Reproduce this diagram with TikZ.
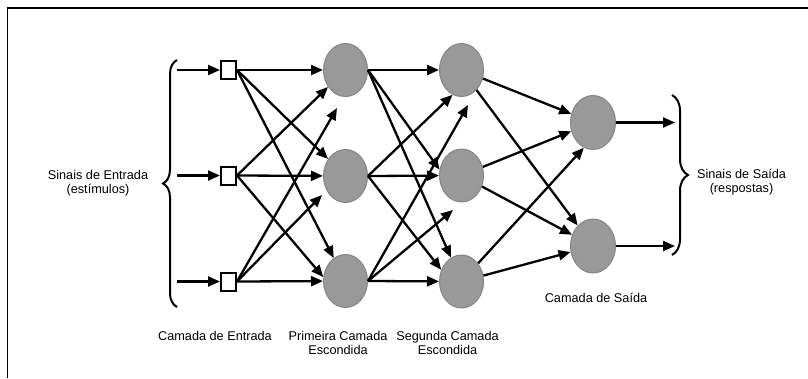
\documentclass[tikz,border=0pt]{standalone}
\usepackage{fontspec}
\setmainfont{Liberation Sans}
\usetikzlibrary{shapes.geometric, arrows.meta, positioning, decorations.pathreplacing}

\begin{document}
\begin{tikzpicture}[
  x=1pt, y=-1pt,
  inbox/.style={draw, rectangle, fill=white, line width=2pt, minimum width=15pt, minimum height=18pt, inner sep=0pt},
  neuron/.style={draw=black!48, fill=black!40, ellipse, line width=1pt, minimum width=44pt, minimum height=53pt, inner sep=0pt},
  arrow/.style={-{Triangle[length=12pt,width=10pt]}, line width=2.3pt},
  lbl/.style={align=center, font=\fontsize{12.7}{14.5}\selectfont},
  brace/.style={decorate, decoration={brace, amplitude=#1}, line width=2pt}
]
\useasboundingbox (0,0) rectangle (808,378);

% Frame
\draw[line width=1.8pt] (7.5,378) -- (7.5,8) -- (808,8);

% Input layer
\node (i1) [inbox] at (228.5,70) {};
\node (i2) [inbox] at (228.5,175.5) {};
\node (i3) [inbox] at (228.5,281.5) {};

% Hidden layers
\node (h1a) [neuron] at (345.5,70) {};
\node (h1b) [neuron] at (345.5,176) {};
\node (h1c) [neuron] at (345.5,281) {};
\node (h2a) [neuron] at (461.5,70) {};
\node (h2b) [neuron] at (461.5,175.5) {};
\node (h2c) [neuron] at (461.5,281.5) {};

% Output layer
\node (oa) [neuron, minimum width=45pt, minimum height=54pt] at (593,122.5) {};
\node (ob) [neuron, minimum width=45pt, minimum height=54pt] at (593,246) {};

% Free ends
\coordinate (s1) at (177,70);
\coordinate (s2) at (177,175.5);
\coordinate (s3) at (177,281.5);
\coordinate [right=59pt of oa.east] (t1);
\coordinate [right=59pt of ob.east] (t2);
\coordinate (c1) at (337,108);
\coordinate (c2) at (322,195);
\coordinate (c3) at (468,105);
\coordinate (c4) at (453,210);

% Braces
\draw[brace=14pt] (177,307) -- (177,60);
\draw[brace=16pt] (672,95) -- (672,255);

% Arrows
\draw [arrow] (s1) -- (i1);
\draw [arrow] (s2) -- (i2);
\draw [arrow] (s3) -- (i3);

\draw [arrow] (i1.east) -- (h1a);
\draw [arrow] (i1.east) -- (h1b);
\draw [arrow] (i1.east) -- (h1c);
\draw [arrow] (i2.east) -- (h1a);
\draw [arrow] (i2.east) -- (h1b);
\draw [arrow] (i2.east) -- (h1c.170);
\draw [arrow] (i3.east) -- (c1);
\draw [arrow] (i3.east) -- (c2);
\draw [arrow] (i3.east) -- (h1c);

\draw [arrow] (h1a.east) -- (h2a);
\draw [arrow] (h1a.east) -- (h2b.165);
\draw [arrow] (h1a.east) -- (h2c);
\draw [arrow] (h1b.east) -- (h2a.-110);
\draw [arrow] (h1b.east) -- (h2b);
\draw [arrow] (h1b.east) -- (h2c.150);
\draw [arrow] (h1c.east) -- (c3);
\draw [arrow] (h1c.east) -- (c4);
\draw [arrow] (h1c.east) -- (h2c);

\draw [arrow] (h2a) -- (oa);
\draw [arrow] (h2a) -- (ob);
\draw [arrow] (h2b) -- (oa);
\draw [arrow] (h2b) -- (ob);
\draw [arrow] (h2c) -- (oa.-110);
\draw [arrow] (h2c) -- (ob);

\draw [arrow] (oa) -- (t1);
\draw [arrow] (ob) -- (t2);

% Labels
\node (lin) [lbl] at (98,183) {Sinais de Entrada\\(estímulos)};
\node (lout) [lbl] at (741.5,182) {Sinais de Saída\\(respostas)};
\node (l0) [lbl] at (215,335.5) {Camada de Entrada};
\node (l1) [lbl] at (338,343) {Primeira Camada\\Escondida};
\node (l2) [lbl] at (447.5,343) {Segunda Camada\\Escondida};
\node (l3) [lbl] at (596,297.5) {Camada de Saída};

\end{tikzpicture}
\end{document}
